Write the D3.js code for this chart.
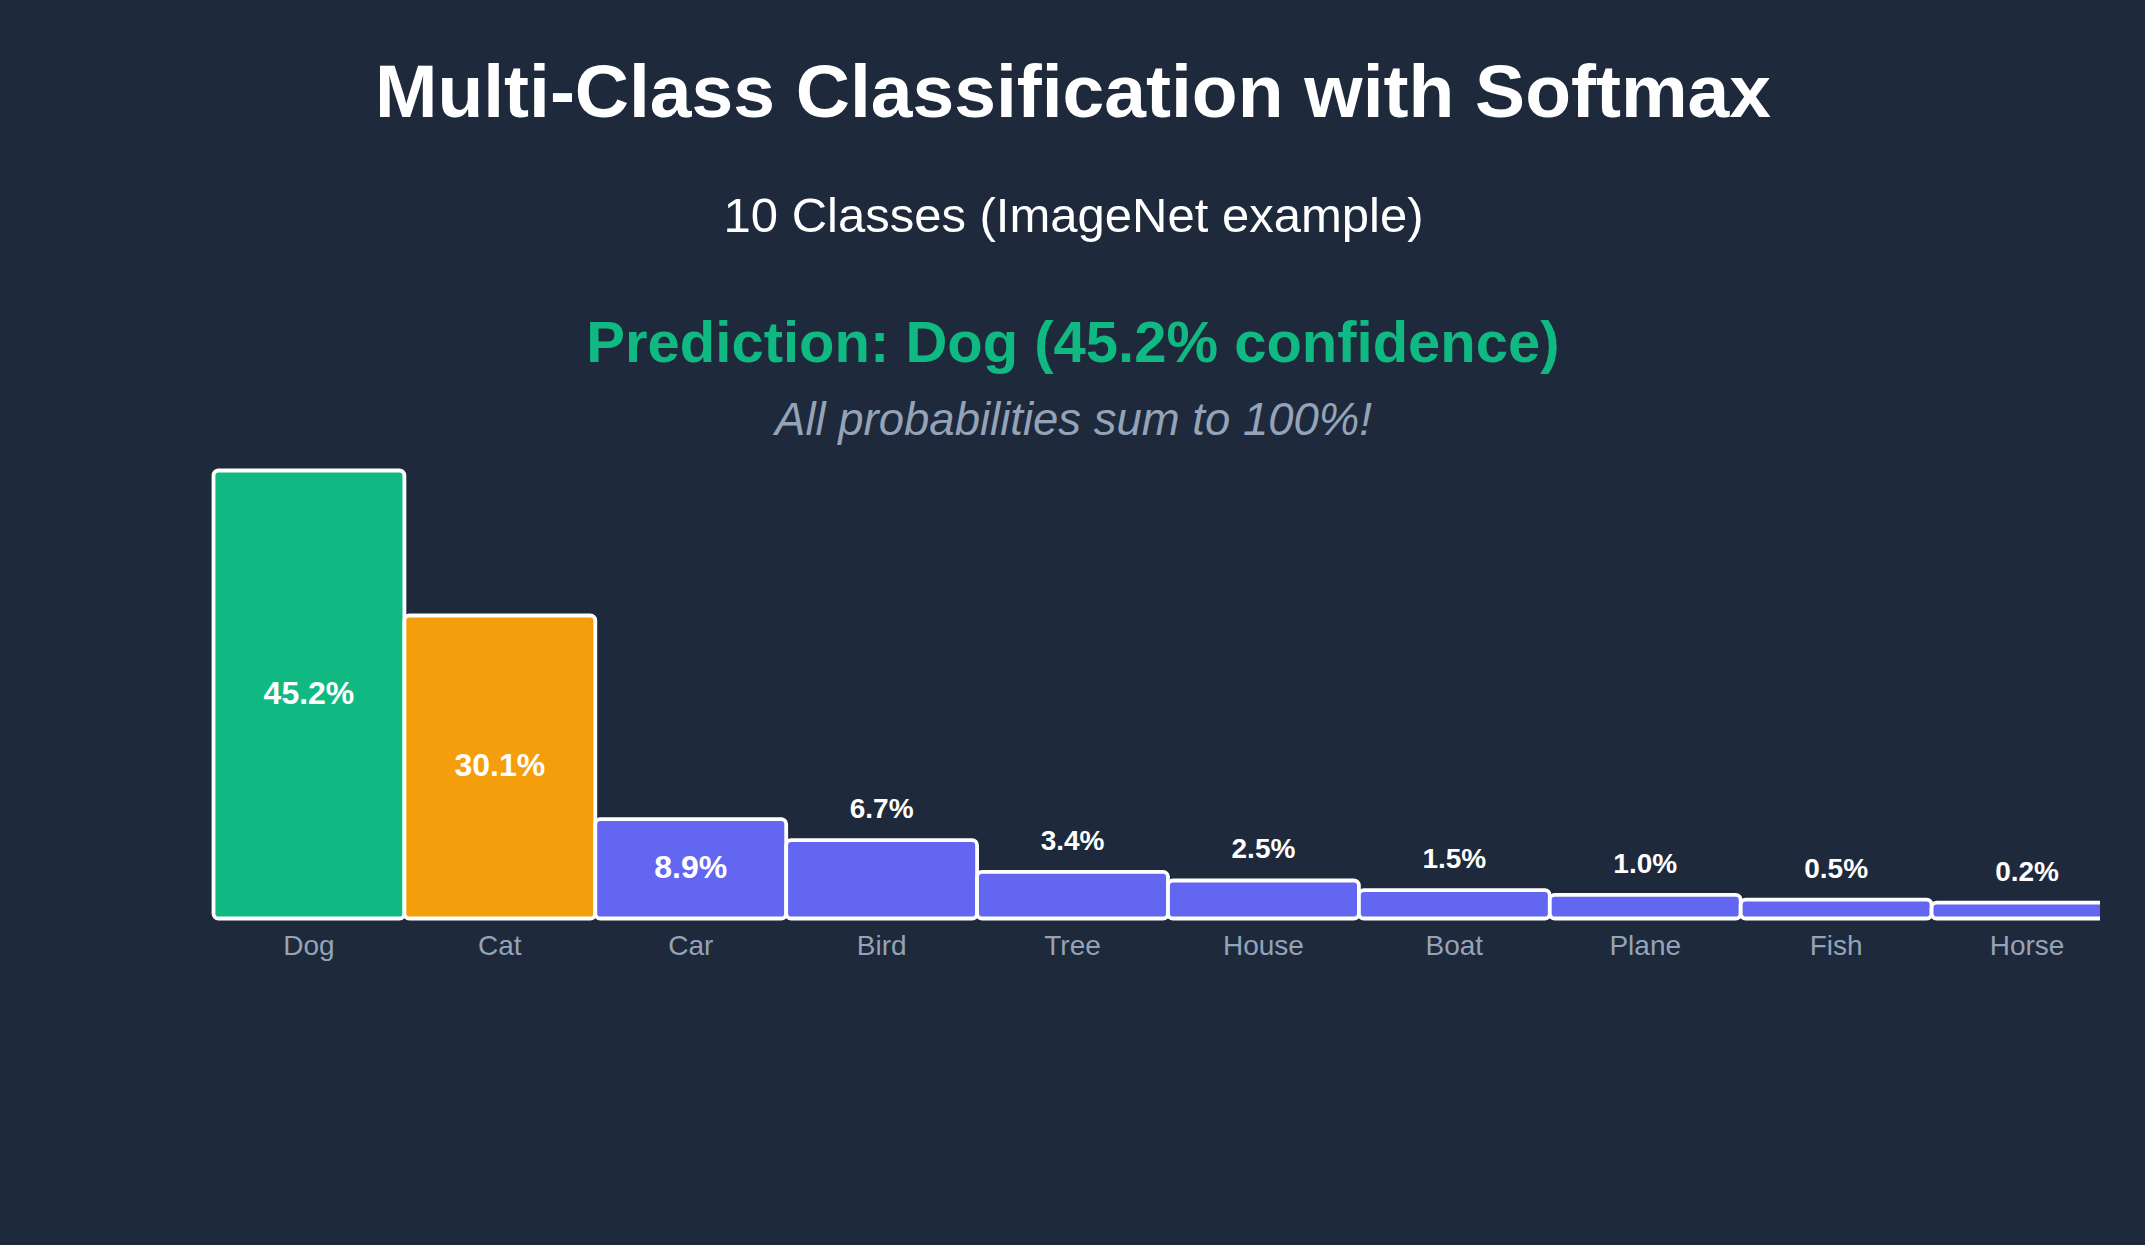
<!DOCTYPE html>
<html>
<head>
<meta charset="utf-8">
<script src="https://cdn.jsdelivr.net/npm/d3@7"></script>
<style>
  html, body { margin: 0; padding: 0; background: #1e293b; }
  svg { display: block; }
</style>
</head>
<body>
<svg id="chart" width="2145" height="1245"></svg>
<script>
const categories = ["Dog", "Cat", "Car", "Bird", "Tree", "House", "Boat", "Plane", "Fish", "Horse"];
const probabilities = [45.2, 30.1, 8.9, 6.7, 3.4, 2.5, 1.5, 1.0, 0.5, 0.2];
const barColors = ["#10b981", "#f59e0b", "#6366f1", "#6366f1", "#6366f1", "#6366f1", "#6366f1", "#6366f1", "#6366f1", "#6366f1"];
const titleText = "Multi-Class Classification with Softmax";
const subtitleText = "10 Classes (ImageNet example)";
const predictionText = "Prediction: Dog (45.2% confidence)";
const noteText = "All probabilities sum to 100%!";

const W = 2145, H = 1245;
const FONT = "'Liberation Sans', Arial, Helvetica, sans-serif";
const svg = d3.select("#chart");

svg.append("rect").attr("width", W).attr("height", H).attr("fill", "#1e293b");

// Titles
svg.append("text").attr("x", 1073).attr("y", 116.5)
  .attr("text-anchor", "middle").attr("font-family", FONT)
  .attr("font-weight", "bold").attr("font-size", 75).attr("fill", "#ffffff")
  .text(titleText);
svg.append("text").attr("x", 1073.5).attr("y", 232)
  .attr("text-anchor", "middle").attr("font-family", FONT)
  .attr("font-size", 49).attr("fill", "#ffffff")
  .text(subtitleText);
svg.append("text").attr("x", 1073).attr("y", 362)
  .attr("text-anchor", "middle").attr("font-family", FONT)
  .attr("font-weight", "bold").attr("font-size", 58).attr("fill", "#10b981")
  .text(predictionText);
svg.append("text").attr("x", 1073.5).attr("y", 435)
  .attr("text-anchor", "middle").attr("font-family", FONT)
  .attr("font-style", "italic").attr("font-size", 45.5).attr("fill", "#94a3b8")
  .text(noteText);

// Scales
const x = d3.scaleBand().domain(categories).range([213.5, 2122.5]).padding(0);
const y = d3.scaleLinear().domain([-1.46, 45.2]).range([918.5, 470.5]);
const baseY = y(-1.46);

svg.append("defs").append("clipPath").attr("id", "plotclip")
  .append("rect").attr("x", 0).attr("y", 0).attr("width", 2100).attr("height", H);

const data = categories.map((c, i) => ({ c, v: probabilities[i], color: barColors[i] }));

const g = svg.append("g").attr("clip-path", "url(#plotclip)");
g.selectAll("rect.bar").data(data).enter().append("rect")
  .attr("class", "bar")
  .attr("x", d => x(d.c))
  .attr("y", d => y(d.v))
  .attr("width", x.bandwidth())
  .attr("height", d => baseY - y(d.v))
  .attr("rx", 5).attr("ry", 5)
  .attr("fill", d => d.color)
  .attr("stroke", "#ffffff").attr("stroke-width", 3.8);

// Value labels
svg.selectAll("text.val").data(data).enter().append("text")
  .attr("class", "val")
  .attr("x", d => x(d.c) + x.bandwidth() / 2)
  .attr("y", d => d.v > 8 ? (y(d.v) + baseY) / 2 - 2 : y(d.v) - 22)
  .attr("dominant-baseline", d => d.v > 8 ? "central" : "auto")
  .attr("text-anchor", "middle").attr("font-family", FONT)
  .attr("font-weight", "bold")
  .attr("font-size", d => d.v > 8 ? 32 : 28)
  .attr("fill", "#ffffff")
  .text(d => d.v.toFixed(1) + "%");

// Category axis
const axis = d3.axisBottom(x).tickSize(0).tickPadding(16.6);
const ag = svg.append("g").attr("transform", `translate(0,${baseY})`).call(axis);
ag.select(".domain").remove();
ag.selectAll("text").attr("font-family", FONT).attr("font-size", 28).attr("fill", "#94a3b8");
</script>
</body>
</html>
